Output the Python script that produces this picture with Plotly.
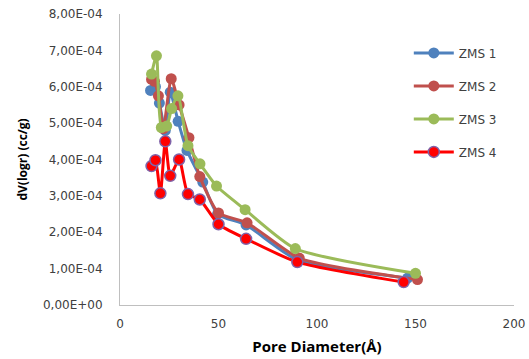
import plotly.graph_objects as go

# Pore diameter (Å) and dV(logr) (cc/g) per sample
zms1_x = [15.5, 18, 20, 23, 25.5, 29.5, 34, 42, 49.5, 64, 90, 146]
zms1_y = [5.90e-4, 6.00e-4, 5.55e-4, 4.80e-4, 5.85e-4, 5.05e-4, 4.25e-4, 3.38e-4, 2.50e-4, 2.20e-4, 1.24e-4, 0.74e-4]

zms2_x = [16, 17.5, 19.5, 22, 26, 30, 35, 40.5, 50, 64.5, 91, 151]
zms2_y = [6.20e-4, 6.15e-4, 5.75e-4, 4.85e-4, 6.22e-4, 5.50e-4, 4.60e-4, 3.53e-4, 2.53e-4, 2.26e-4, 1.29e-4, 0.70e-4]

zms3_x = [16, 18.5, 21, 23.7, 26.2, 29.4, 34.5, 40.6, 49, 63.5, 89, 150]
zms3_y = [6.35e-4, 6.85e-4, 4.88e-4, 4.92e-4, 5.40e-4, 5.75e-4, 4.38e-4, 3.88e-4, 3.27e-4, 2.62e-4, 1.55e-4, 0.87e-4]

zms4_x = [16, 18, 20.5, 23, 25.5, 30, 34.5, 40.5, 50, 64, 90, 144]
zms4_y = [3.82e-4, 3.98e-4, 3.07e-4, 4.50e-4, 3.55e-4, 4.00e-4, 3.05e-4, 2.90e-4, 2.22e-4, 1.82e-4, 1.18e-4, 0.63e-4]

names = ["ZMS 1", "ZMS 2", "ZMS 3", "ZMS 4"]

y_tickvals = [0, 1e-4, 2e-4, 3e-4, 4e-4, 5e-4, 6e-4, 7e-4, 8e-4]
y_ticktext = ["0,00E+00", "1,00E-04", "2,00E-04", "3,00E-04", "4,00E-04",
              "5,00E-04", "6,00E-04", "7,00E-04", "8,00E-04"]
x_tickvals = [0, 50, 100, 150, 200]

series = [
    (zms1_x, zms1_y, "#4F81BD", "#4F81BD", "#4F81BD"),
    (zms2_x, zms2_y, "#C0504D", "#C0504D", "#C0504D"),
    (zms3_x, zms3_y, "#9BBB59", "#9BBB59", "#9BBB59"),
    (zms4_x, zms4_y, "#FF0000", "#FF0000", "#7F63A9"),
]

fig = go.Figure()
for i, (xs, ys, lc, mc, ml) in enumerate(series):
    fig.add_trace(go.Scatter(
        x=xs, y=ys, name=names[i], mode="lines+markers",
        legendgroup=names[i],
        line=dict(color=lc, width=3, shape="spline", smoothing=0.6),
        marker=dict(size=11, color=mc, line=dict(color=ml, width=1.5 if i == 3 else 0)),
    ))

fig.update_layout(
    width=529, height=359,
    margin=dict(l=120, r=15, t=14, b=54),
    paper_bgcolor="white", plot_bgcolor="white",
    font=dict(family="DejaVu Sans", size=12, color="#404040"),
    showlegend=True,
    legend=dict(x=0.733, y=0.916, xanchor="left", yanchor="top",
                font=dict(family="DejaVu Sans", size=12, color="#404040"),
                tracegroupgap=14, bgcolor="rgba(0,0,0,0)", itemwidth=40),
    xaxis=dict(range=[0, 200], tickvals=x_tickvals, showgrid=False, zeroline=False,
               showline=True, linecolor="#BFBFBF", linewidth=1, ticks="",
               automargin=False, ticklabelstandoff=8,
               tickfont=dict(family="DejaVu Sans", size=12, color="#404040"),
               title=dict(text="<b>Pore Diameter(Å)</b>", standoff=11,
                          font=dict(family="Open Sans", size=15, color="#000000"))),
    yaxis=dict(range=[0, 8e-4], tickvals=y_tickvals, ticktext=y_ticktext, showgrid=False,
               zeroline=False, showline=True, linecolor="#BFBFBF", linewidth=1, ticks="",
               automargin=False, ticklabelstandoff=14,
               tickfont=dict(family="DejaVu Sans", size=12, color="#404040"),
               title=dict(text="<b>dV(logr) (cc/g)</b>", standoff=12,
                          font=dict(family="Open Sans", size=12, color="#000000"))),
)

fig.write_html("out.html")
